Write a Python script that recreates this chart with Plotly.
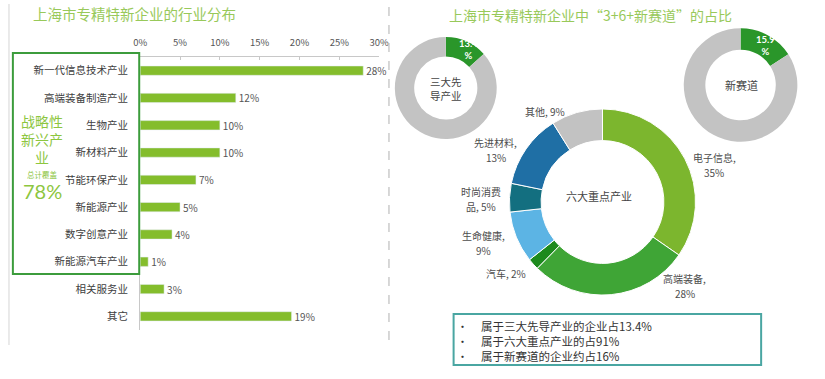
import plotly.graph_objects as go

W, H = 825, 379
FONT = "Noto Sans CJK SC"

# ---------------- data ----------------
industries = ["新一代信息技术产业", "高端装备制造产业", "生物产业", "新材料产业", "节能环保产业",
              "新能源产业", "数字创意产业", "新能源汽车产业", "相关服务业", "其它"]
industry_share = [28, 12, 10, 10, 7, 5, 4, 1, 3, 19]
x_ticks = [0, 5, 10, 15, 20, 25, 30]

six_labels = ["电子信息", "高端装备", "汽车", "生命健康", "时尚消费品", "先进材料", "其他"]
six_values = [35, 28, 2, 9, 5, 13, 9]
six_colors = ["#7cb62e", "#3fa536", "#1d8a1d", "#5cb4e4", "#136f80", "#1f6fa5", "#c2c2c2"]
six_label_lines = [["电子信息,", "35%"], ["高端装备,", "28%"], ["汽车, 2%"], ["生命健康,", "9%"],
                   ["时尚消费", "品, 5%"], ["先进材料,", "13%"], ["其他, 9%"]]

three_values = [13.4, 86.6]
new_track_values = [15.9, 84.1]

summary_lines = ["属于三大先导产业的企业占13.4%", "属于六大重点产业的占91%", "属于新赛道的企业约占16%"]


def px(x):
    return x / W


def py(y):
    return 1 - y / H


fig = go.Figure()

# ---------------- left: bar chart ----------------
fig.add_trace(go.Bar(
    orientation="h", x=industry_share, y=industries,
    marker=dict(color="#84bd2c"), width=0.34,
    text=[f"{v}%" for v in industry_share], textposition="outside",
    constraintext="none",
    textfont=dict(family=FONT, size=10, color="#555555"),
    cliponaxis=False, showlegend=False, hoverinfo="skip",
))

fig.update_layout(
    xaxis=dict(domain=[px(136), px(380)], range=[0, 30], side="top",
               tickvals=x_ticks, ticktext=[f"{t}%" for t in x_ticks],
               tickfont=dict(family=FONT, size=9.5, color="#555555"),
               showgrid=False, zeroline=False, showline=True, linecolor="#c8c8c8",
               ticks="inside", ticklen=3, tickcolor="#c8c8c8",
               ticklabelstandoff=6, fixedrange=True),
    yaxis=dict(domain=[py(330), py(57)], autorange="reversed",
               tickfont=dict(family=FONT, size=10.5, color="#404040"),
               showgrid=False, zeroline=False, showline=True, linecolor="#c8c8c8",
               ticks="", ticklabelstandoff=9, fixedrange=True),
)

# ---------------- right: donuts ----------------
fig.add_trace(go.Pie(
    values=six_values, labels=six_labels, sort=False, direction="clockwise",
    rotation=0, hole=0.66, textinfo="none",
    marker=dict(colors=six_colors, line=dict(color="white", width=1)),
    domain=dict(x=[px(513), px(703)], y=[py(297), py(107)]),
    showlegend=False, hoverinfo="skip",
))

fig.add_trace(go.Pie(
    values=three_values, sort=False, direction="clockwise", rotation=0, hole=0.62,
    textinfo="none",
    marker=dict(colors=["#2a962a", "#c3c3c3"], line=dict(color="white", width=0)),
    domain=dict(x=[px(396), px(500)], y=[py(140), py(36)]),
    showlegend=False, hoverinfo="skip",
))

fig.add_trace(go.Pie(
    values=new_track_values, sort=False, direction="clockwise", rotation=0, hole=0.62,
    textinfo="none",
    marker=dict(colors=["#2a962a", "#c3c3c3"], line=dict(color="white", width=0)),
    domain=dict(x=[px(691), px(807)], y=[py(143), py(27)]),
    showlegend=False, hoverinfo="skip",
))

ann = []


def add_text(x, y, text, size, color, xanchor="center", family=FONT, **kw):
    ann.append(dict(x=px(x), y=py(y), xref="paper", yref="paper", text=text,
                    showarrow=False, xanchor=xanchor, yanchor="middle",
                    font=dict(family=family, size=size, color=color), **kw))


# titles
add_text(25, 14, "上海市专精特新企业的行业分布", 14.5, "#98c95a", xanchor="left")
add_text(596, 15, "上海市专精特新企业中“3+6+新赛道”的占比", 14, "#98c95a")

# box text (strategic emerging industries)
add_text(36, 139, "战略性<br>新兴产<br>业", 14, "#8dc63f")
add_text(36, 174, "总计覆盖", 7.5, "#8dc63f")
add_text(36, 191, "78%", 20, "#8dc63f", family="Lato")

# small donut values
add_text(471, 50, "<b>13.4<br>%</b>", 9.5, "white", family="Lato")
add_text(774, 45, "<b>15.9<br>%</b>", 9.5, "white", family="Lato")

# donut center texts
add_text(448, 89, "三大先<br>导产业", 10.5, "#444444")
add_text(750, 85, "新赛道", 11, "#444444")
add_text(604, 196, "六大重点产业", 11, "#444444")

# big donut slice labels (each line its own text)
label_pos = {"电子信息": (722, 165), "高端装备": (692, 286), "汽车": (510, 273),
             "生命健康": (487, 243), "时尚消费品": (484, 199), "先进材料": (499, 150),
             "其他": (549, 112)}
for name, lines in zip(six_labels, six_label_lines):
    x, y = label_pos[name]
    n = len(lines)
    for j, ln in enumerate(lines):
        add_text(x, y + (j - (n - 1) / 2) * 14.5, ln, 10, "#4d4d4d")

# summary box lines
for i, line in enumerate(summary_lines):
    y = 326 + i * 15
    add_text(465, y, "•", 11, "#333333")
    add_text(482, y, line, 11.5, "#333333", xanchor="left")

shapes = [
    dict(type="rect", xref="paper", yref="paper", x0=px(6), x1=px(135), y0=py(274), y1=py(53),
         line=dict(color="#3c9c3c", width=2)),
    dict(type="rect", xref="paper", yref="paper", x0=px(456), x1=px(770), y0=py(365), y1=py(314),
         line=dict(color="#4aa6a2", width=2)),
    dict(type="line", xref="paper", yref="paper", x0=px(390), x1=px(390), y0=py(340), y1=py(5),
         line=dict(color="#bdbdbd", width=1.2, dash="dash")),
    dict(type="line", xref="paper", yref="paper", x0=px(2), x1=px(2), y0=py(345), y1=py(4),
         line=dict(color="#e3e3e3", width=1.5)),
]

fig.update_layout(
    width=W, height=H, margin=dict(l=0, r=0, t=0, b=0),
    paper_bgcolor="white", plot_bgcolor="white",
    annotations=ann, shapes=shapes,
    font=dict(family=FONT),
)

fig.write_html("out.html", config={"displayModeBar": False})
